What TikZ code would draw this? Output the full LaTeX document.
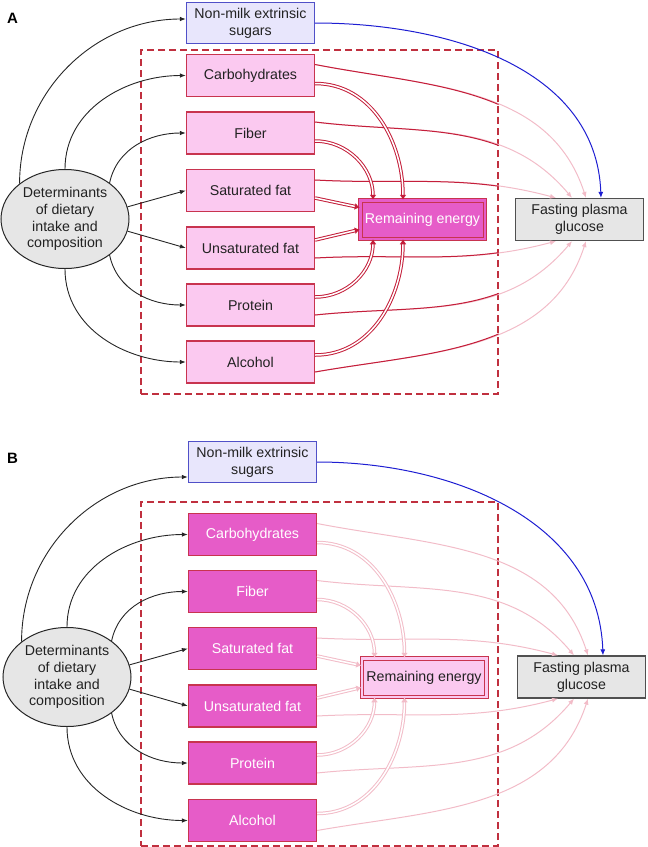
\documentclass[tikz,border=0pt]{standalone}
\usepackage{fontspec}
\setmainfont{Liberation Sans}
\usetikzlibrary{arrows.meta,shapes.geometric}
\definecolor{foodlight}{HTML}{FBC9F0}
\definecolor{foodmag}{HTML}{E65CC8}
\definecolor{foodborder}{HTML}{C8344F}
\definecolor{nmfill}{HTML}{E8E6FC}
\definecolor{nmborder}{HTML}{5050C8}
\definecolor{grayfill}{HTML}{E6E6E6}
\definecolor{grayborder}{HTML}{505050}
\definecolor{framecol}{HTML}{C0303F}
\definecolor{rdark}{HTML}{C41E3A}
\definecolor{pinkl}{HTML}{F2BCC8}
\definecolor{bluel}{HTML}{1E1ED2}
\definecolor{textdark}{HTML}{222222}

\newcommand\fpglinks[2]{%
 \draw[#2] ([yshift=11pt]carb#1.east) to[out=-11,in=108] ([xshift=6.5pt]fpg#1.north);
 \draw[#2] ([yshift=11pt]fib#1.east) to[out=-7,in=130] ([xshift=-7.5pt]fpg#1.north);
 \draw[#2] ([yshift=10.5pt]sat#1.east) to[out=-3,in=165] ([xshift=-23.5pt]fpg#1.north);
 \draw[#2] ([yshift=-10pt]uns#1.east) to[out=3,in=-165] ([xshift=-23.5pt]fpg#1.south);
 \draw[#2] ([yshift=-10pt]pro#1.east) to[out=6,in=-130] ([xshift=-7.5pt]fpg#1.south);
 \draw[#2] ([yshift=-10pt]alc#1.east) to[out=10,in=-108] ([xshift=6.5pt]fpg#1.south);
}
\newcommand\relinks[2]{%
 \draw[#2] ([yshift=-8pt]carb#1.east) to[out=0,in=90] ([xshift=-19.5pt]re#1.north);
 \draw[#2] ([yshift=-8pt]fib#1.east) to[out=0,in=90] ([xshift=-49.5pt]re#1.north);
 \draw[#2] ([yshift=-7.5pt]sat#1.east) -- ([yshift=12pt]re#1.west);
 \draw[#2] ([yshift=8pt]uns#1.east) -- ([yshift=-10pt]re#1.west);
 \draw[#2] ([yshift=8pt]pro#1.east) to[out=0,in=-90] ([xshift=-49.5pt]re#1.south);
 \draw[#2] ([yshift=7pt]alc#1.east) to[out=0,in=-90] ([xshift=-19.5pt]re#1.south);
}
\newcommand\detlinks[2]{%
 \draw[detarrow] (det#1.142) to[out=90,in=180] ([yshift=#2]nm#1.west);
 \draw[detarrow] (det#1.north) to[out=90,in=180] (carb#1.west);
 \draw[detarrow] (det#1.39) to[out=78,in=180] (fib#1.west);
 \draw[detarrow] (det#1.11) -- (sat#1.west);
 \draw[detarrow] (det#1.-11) -- (uns#1.west);
 \draw[detarrow] (det#1.-39) to[out=-78,in=180] (pro#1.west);
 \draw[detarrow] (det#1.south) to[out=-90,in=180] (alc#1.west);
}

\begin{document}
\begin{tikzpicture}[x=1pt,y=1pt,
  font=\fontsize{14.2}{16.8}\selectfont,
  lbl/.style={font=\fontsize{15}{18}\selectfont\bfseries, inner sep=0pt},
  frame/.style={draw=framecol, dash pattern=on 7pt off 4pt, line width=1.2pt,
    minimum width=357pt, minimum height=344pt, inner sep=0pt},
  food/.style={rectangle, draw=foodborder, line width=1.2pt, minimum width=128pt,
    minimum height=42pt, inner sep=0pt},
  foodA/.style={food, fill=foodlight, text=textdark},
  foodB/.style={food, fill=foodmag, text=white},
  nmbox/.style={rectangle, draw=nmborder, fill=nmfill, line width=1.2pt,
    minimum width=128pt, minimum height=41pt, inner sep=0pt, align=center, text=textdark},
  fpgbox/.style={rectangle, draw=grayborder, fill=grayfill, line width=1.2pt,
    minimum width=128pt, minimum height=42pt, inner sep=0pt, align=center, text=textdark},
  det/.style={ellipse, draw=black!85, fill=grayfill, line width=1pt,
    minimum width=128pt, minimum height=99pt, inner sep=0pt, align=center, text=textdark},
  rebox/.style={rectangle, draw=foodborder, line width=1pt, double distance=2.5pt,
    minimum width=124.5pt, minimum height=38.5pt, inner sep=0pt},
  reA/.style={rebox, fill=foodmag, double=foodmag, text=white},
  reB/.style={rebox, fill=foodlight, double=foodlight, text=textdark},
  detarrow/.style={draw=black!85, line width=0.9pt, -{Latex[length=6pt,width=4.5pt]}},
  pinkarrow/.style={draw=pinkl, line width=1pt, -{Latex[length=6pt,width=5pt]}},
  redline/.style={draw=rdark, line width=1pt},
  bluearrow/.style={draw=bluel, line width=1pt, -{Latex[length=6pt,width=5pt]}},
  dblA/.style={draw=rdark, double=white, double distance=1.5pt, line width=1pt,
    -{Latex[length=5pt,width=7pt]}},
  dblB/.style={draw=pinkl, double=white, double distance=1.5pt, line width=1pt,
    -{Latex[length=5pt,width=7pt]}}
]
\useasboundingbox (0,0) rectangle (648,-847);

% ---------- Panel A ----------
\node[lbl] (labA) at (12.5,-18) {A};
\node[frame] (frameA) at (319.5,-222) {};
\node[nmbox] (nmA) at (250.5,-23) {Non-milk extrinsic\\sugars};
\node[foodA] (carbA) at (250.5,-75.5) {Carbohydrates};
\node[foodA] (fibA) at (250.5,-133) {Fiber};
\node[foodA] (satA) at (250.5,-190.5) {Saturated fat};
\node[foodA] (unsA) at (250.5,-248) {Unsaturated fat};
\node[foodA] (proA) at (250.5,-305) {Protein};
\node[foodA] (alcA) at (250.5,-362) {Alcohol};
\node[det] (detA) at (65,-219) {Determinants\\of dietary\\intake and\\composition};
\node[reA] (reA) at (422.5,-219.5) {Remaining energy};
\node[fpgbox] (fpgA) at (579.5,-219.5) {Fasting plasma\\glucose};

\detlinks{A}{4pt}
\draw[bluearrow] (nmA.east) to[out=0,in=92] ([xshift=21.5pt]fpgA.north);
\fpglinks{A}{pinkarrow}
\begin{scope}
  \clip (frameA.north west) rectangle (frameA.south east);
  \fpglinks{A}{redline}
\end{scope}
\relinks{A}{dblA}

% ---------- Panel B ----------
\node[lbl] (labB) at (12.5,-458) {B};
\node[frame] (frameB) at (319.5,-674) {};
\node[nmbox] (nmB) at (252.5,-462) {Non-milk extrinsic\\sugars};
\node[foodB] (carbB) at (252.5,-534.5) {Carbohydrates};
\node[foodB] (fibB) at (252.5,-591.5) {Fiber};
\node[foodB] (satB) at (252.5,-648.5) {Saturated fat};
\node[foodB] (unsB) at (252.5,-706) {Unsaturated fat};
\node[foodB] (proB) at (252.5,-763) {Protein};
\node[foodB] (alcB) at (252.5,-820.5) {Alcohol};
\node[det] (detB) at (67,-677) {Determinants\\of dietary\\intake and\\composition};
\node[reB] (reB) at (424,-677.5) {Remaining energy};
\node[fpgbox] (fpgB) at (581.5,-677) {Fasting plasma\\glucose};

\detlinks{B}{-15pt}
\draw[bluearrow] (nmB.east) to[out=0,in=92] ([xshift=21.5pt]fpgB.north);
\fpglinks{B}{pinkarrow}
\relinks{B}{dblB}
\end{tikzpicture}
\end{document}
